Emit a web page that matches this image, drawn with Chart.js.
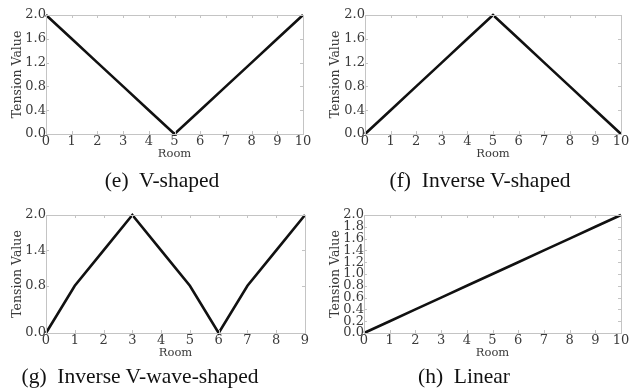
<!DOCTYPE html>
<html>
<head>
<meta charset="utf-8">
<script src="https://cdn.jsdelivr.net/npm/chart.js@4/dist/chart.umd.min.js"></script>
<style>
  body { margin: 0; background: #fff; }
  .wrap { position: relative; width: 636px; height: 390px; }
  .panel { position: absolute; width: 318px; height: 195px; }
  .caption {
    position: absolute; font-family: "Liberation Serif", serif; font-size: 21.5px;
    color: #111; white-space: pre; transform: translate(-50%, -50%);
  }
</style>
</head>
<body>
<div class="wrap">
  <div class="panel" style="left:0;top:0"><canvas id="chartE" width="318" height="195"></canvas></div>
  <div class="panel" style="left:318px;top:0"><canvas id="chartF" width="318" height="195"></canvas></div>
  <div class="panel" style="left:0;top:195px"><canvas id="chartG" width="318" height="195"></canvas></div>
  <div class="panel" style="left:318px;top:195px"><canvas id="chartH" width="318" height="195"></canvas></div>
  <div class="caption" style="left:162px;top:180px">(e)  V-shaped</div>
  <div class="caption" style="left:480px;top:180px">(f)  Inverse V-shaped</div>
  <div class="caption" style="left:140px;top:376px">(g)  Inverse V-wave-shaped</div>
  <div class="caption" style="left:464px;top:376px">(h)  Linear</div>
</div>
<script>
// data
const rooms10 = [0, 1, 2, 3, 4, 5, 6, 7, 8, 9, 10];
const rooms9 = [0, 1, 2, 3, 4, 5, 6, 7, 8, 9];
const vShaped = [2.0, 1.6, 1.2, 0.8, 0.4, 0.0, 0.4, 0.8, 1.2, 1.6, 2.0];
const invVShaped = [0.0, 0.4, 0.8, 1.2, 1.6, 2.0, 1.6, 1.2, 0.8, 0.4, 0.0];
const invVWave = [0.0, 0.8, 1.4, 2.0, 1.4, 0.8, 0.0, 0.8, 1.4, 2.0];
const linear = [0.0, 0.2, 0.4, 0.6, 0.8, 1.0, 1.2, 1.4, 1.6, 1.8, 2.0];

const ticksE = [0.0, 0.4, 0.8, 1.2, 1.6, 2.0];
const ticksG = [0.0, 0.8, 1.4, 2.0];
const ticksH = [0.0, 0.2, 0.4, 0.6, 0.8, 1.0, 1.2, 1.4, 1.6, 1.8, 2.0];

const tickFont = { family: "DejaVu Serif", size: 13 };
const xTitleFont = { family: "DejaVu Serif", size: 11.5 };
const yTitleFont = { family: "DejaVu Serif", size: 12.5 };
const frameColor = "#c4c4c4";
const textColor = "#3a3a3a";

// little inward tick marks like matplotlib
const innerTicks = {
  id: "innerTicks",
  afterDraw(chart) {
    const ctx = chart.ctx;
    const a = chart.chartArea;
    const xs = chart.scales.x, ys = chart.scales.y;
    ctx.save();
    ctx.strokeStyle = frameColor;
    ctx.lineWidth = 1;
    ctx.beginPath();
    xs.ticks.forEach((t, i) => {
      const px = Math.round(xs.getPixelForTick(i)) + 0.5;
      ctx.moveTo(px, a.top); ctx.lineTo(px, a.top + 3);
      ctx.moveTo(px, a.bottom); ctx.lineTo(px, a.bottom - 3);
    });
    ys.ticks.forEach((t, i) => {
      const py = Math.round(ys.getPixelForTick(i)) + 0.5;
      ctx.moveTo(a.left, py); ctx.lineTo(a.left + 3, py);
      ctx.moveTo(a.right, py); ctx.lineTo(a.right - 3, py);
    });
    ctx.stroke();
    ctx.strokeRect(a.left + 0.5, a.top + 0.5, a.right - a.left, a.bottom - a.top);
    ctx.restore();
  }
};

function makeChart(id, rooms, values, yTicks, pad) {
  new Chart(document.getElementById(id), {
    type: "line",
    data: {
      labels: rooms.map(String),
      datasets: [{
        data: values,
        borderColor: "#111",
        borderWidth: 2.6,
        pointRadius: 0,
        tension: 0,
        clip: false
      }]
    },
    options: {
      responsive: false,
      animation: false,
      layout: { padding: { top: pad.top, right: pad.right, bottom: pad.bottom, left: 0 } },
      plugins: { legend: { display: false }, tooltip: { enabled: false } },
      scales: {
        x: {
          offset: false,
          grid: { display: false, drawTicks: false },
          border: { display: false },
          ticks: { font: tickFont, color: textColor, padding: 0, maxRotation: 0, autoSkip: false },
          title: { display: true, text: "Room", font: xTitleFont, color: textColor, padding: 0 },
          afterFit(s) { s.height = 27; }
        },
        y: {
          min: 0, max: 2,
          grid: { display: false, drawTicks: false },
          border: { display: false },
          afterBuildTicks(s) { s.ticks = yTicks.map(v => ({ value: v })); },
          ticks: { font: tickFont, color: textColor, padding: 0, autoSkip: false, callback: v => v.toFixed(1) },
          title: { display: true, text: "Tension Value", font: yTitleFont, color: textColor, padding: { top: 10, bottom: 0 } },
          afterFit(s) { s.width = pad.left; }
        }
      }
    },
    plugins: [innerTicks]
  });
}

makeChart("chartE", rooms10, vShaped, ticksE, { top: 15, right: 15, bottom: 34, left: 46 });
makeChart("chartF", rooms10, invVShaped, ticksE, { top: 15, right: 15, bottom: 34, left: 47 });
makeChart("chartG", rooms9, invVWave, ticksG, { top: 20, right: 13, bottom: 30, left: 46 });
makeChart("chartH", rooms10, linear, ticksH, { top: 20, right: 15, bottom: 30, left: 46 });
</script>
</body>
</html>
